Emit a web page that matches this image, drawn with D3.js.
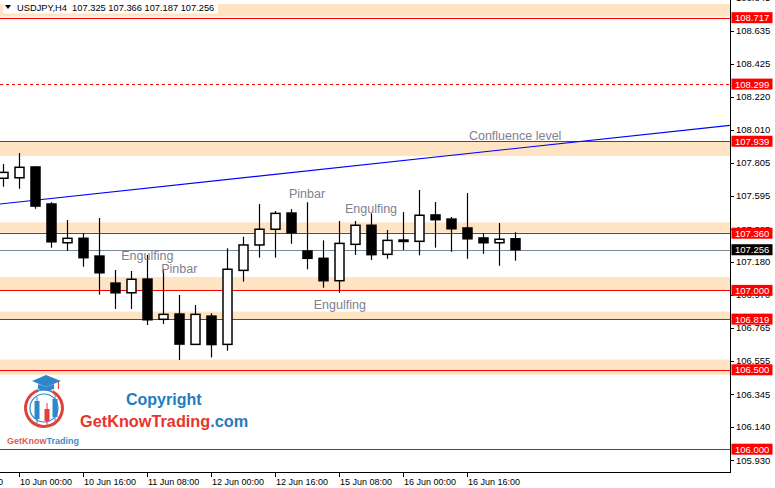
<!DOCTYPE html>
<html><head><meta charset="utf-8">
<script src="https://cdn.jsdelivr.net/npm/d3@7"></script>
<style>
body{margin:0;background:#fff;}
svg{display:block;font-family:"Liberation Sans",Arial,sans-serif;}
</style></head>
<body><svg id="c" width="775" height="488"></svg>
<script>
// ---------- data ----------
const symbol = "USDJPY,H4";
const opens  = [107.706,107.709,107.777,107.544,107.300,107.328,107.216,107.046,106.985,107.071,106.818,106.851,106.660,106.838,106.660,107.126,107.286,107.385,107.487,107.248,107.202,107.061,107.290,107.410,107.227,107.317,107.309,107.475,107.449,107.393,107.330,107.300,107.325];
const highs  = [107.796,107.865,107.783,107.556,107.443,107.359,107.456,107.128,107.122,107.223,107.128,106.971,106.908,106.856,107.265,107.338,107.544,107.500,107.512,107.555,107.315,107.437,107.437,107.485,107.380,107.493,107.632,107.556,107.462,107.613,107.361,107.424,107.366];
const lows   = [107.653,107.640,107.514,107.269,107.250,107.149,106.973,106.883,106.883,106.782,106.788,106.562,106.658,106.578,106.620,107.055,107.206,107.206,107.294,107.133,107.017,106.985,107.223,107.191,107.199,107.254,107.221,107.269,107.243,107.199,107.231,107.155,107.187];
const closes = [107.743,107.775,107.531,107.306,107.328,107.206,107.111,106.985,107.070,106.815,106.849,106.662,106.849,106.659,107.133,107.286,107.385,107.485,107.363,107.202,107.061,107.296,107.410,107.225,107.315,107.308,107.473,107.445,107.388,107.325,107.300,107.322,107.256];

const timeTickIndex  = [-3,1,5,9,13,17,21,25,29];
const timeTickLabels = ["9 Jun 08:00","10 Jun 00:00","10 Jun 16:00","11 Jun 08:00","12 Jun 00:00","12 Jun 16:00","15 Jun 08:00","16 Jun 00:00","16 Jun 16:00"];

const priceTicks = [108.845,108.635,108.425,108.220,108.010,107.805,107.595,107.385,107.180,106.970,106.765,106.555,106.345,106.140,105.930];

const levelPrices = [108.717,108.299,107.939,107.360,107.000,106.819,106.500,106.000];
const levelDashed = [false,true,false,false,false,false,false,false];

const zoneTops    = [108.803,107.939,107.428,107.084,106.866,106.565];
const zoneBottoms = [108.724,107.846,107.363,106.996,106.819,106.469];

const bidPrice = 107.256;
const trendIndex = [-0.22,45.4];
const trendPrice = [107.544,108.039];

const noteTexts  = ["Confluence level","Pinbar","Engulfing","Engulfing","Engulfing","Pinbar"];
const noteIndex  = [29.09,17.84,21.34,19.39,7.36,9.86];
const notePrice  = [107.947,107.580,107.485,106.883,107.191,107.111];

// ---------- layout ----------
const W = 775, H = 488, plotR = 730, plotB = 472;
const svg = d3.select("#c");
const x = d3.scaleLinear().domain([0,32]).range([3.5,515.5]);
const y = d3.scaleLinear().domain([106.000,108.717]).range([449.2,17.7]);

svg.append("defs").append("clipPath").attr("id","plot")
  .append("rect").attr("x",0).attr("y",0).attr("width",plotR).attr("height",plotB);

const plot = svg.append("g").attr("clip-path","url(#plot)");

// zones
plot.selectAll("rect.zone").data(zoneTops).join("rect").attr("class","zone")
  .attr("x",0).attr("width",plotR)
  .attr("y",(d)=>y(d)).attr("height",(d,i)=>y(zoneBottoms[i])-y(d))
  .attr("fill","#FFE4C4");

// level lines
plot.selectAll("line.lvl").data(levelPrices).join("line").attr("class","lvl")
  .attr("x1",0).attr("x2",plotR)
  .attr("y1",d=>Math.round(y(d))+0.5).attr("y2",d=>Math.round(y(d))+0.5)
  .attr("stroke","#FF0000").attr("stroke-width",1)
  .attr("stroke-dasharray",(d,i)=>levelDashed[i]?"3,3":null);

// bid line
plot.append("line").attr("x1",0).attr("x2",plotR)
  .attr("y1",Math.round(y(bidPrice))+0.5).attr("y2",Math.round(y(bidPrice))+0.5)
  .attr("stroke","#778899").attr("stroke-width",1);

// trend line
plot.append("path")
  .attr("d",d3.line().x(d=>x(d[0])).y(d=>y(d[1]))(d3.zip(trendIndex,trendPrice)))
  .attr("stroke","#0000FF").attr("stroke-width",1.1).attr("fill","none");

// candles
const idx = d3.range(opens.length);
const cg = plot.append("g");
cg.selectAll("line.wick").data(idx).join("line").attr("class","wick")
  .attr("x1",i=>x(i)).attr("x2",i=>x(i))
  .attr("y1",i=>y(highs[i])).attr("y2",i=>y(lows[i]))
  .attr("stroke","#000").attr("stroke-width",1.2);
cg.selectAll("rect.body").data(idx).join("rect").attr("class","body")
  .attr("x",i=>x(i)-4.5).attr("width",9)
  .attr("y",i=>y(Math.max(opens[i],closes[i])))
  .attr("height",i=>Math.max(0.8,Math.abs(y(opens[i])-y(closes[i]))))
  .attr("fill",i=>closes[i]>=opens[i]?"#fff":"#000")
  .attr("stroke","#000").attr("stroke-width",1.5);

// annotations
plot.selectAll("text.note").data(noteTexts).join("text").attr("class","note")
  .attr("x",(d,i)=>x(noteIndex[i])).attr("y",(d,i)=>y(notePrice[i]))
  .attr("font-size","12.5px").attr("fill","#80808F").text(d=>d);

// axes lines
svg.append("line").attr("x1",plotR+0.5).attr("x2",plotR+0.5).attr("y1",0).attr("y2",plotB+1)
  .attr("stroke","#000").attr("stroke-width",1);
svg.append("line").attr("x1",0).attr("x2",plotR+1).attr("y1",plotB+0.5).attr("y2",plotB+0.5)
  .attr("stroke","#000").attr("stroke-width",1);

// right axis ticks
const ax = svg.append("g");
ax.selectAll("line").data(priceTicks).join("line")
  .attr("x1",plotR).attr("x2",plotR+4)
  .attr("y1",d=>Math.round(y(d))+0.5).attr("y2",d=>Math.round(y(d))+0.5)
  .attr("stroke","#000");
ax.selectAll("text").data(priceTicks).join("text")
  .attr("x",736).attr("y",d=>y(d)).attr("dy","0.35em")
  .attr("font-size","9.5px").attr("fill","#000").text(d=>d.toFixed(3));

// bottom axis ticks
const bx = svg.append("g");
bx.selectAll("line").data(timeTickIndex).join("line")
  .attr("x1",d=>x(d)).attr("x2",d=>x(d)).attr("y1",plotB).attr("y2",plotB+5)
  .attr("stroke","#000");
bx.selectAll("text").data(timeTickLabels).join("text")
  .attr("x",(d,i)=>x(timeTickIndex[i])+0.5).attr("y",485)
  .attr("font-size","9px").attr("fill","#000").text(d=>d);

// price labels
const pl = svg.append("g");
const labelData = levelPrices.map(p=>({p,c:"#FF0000"})).concat([{p:bidPrice,c:"#000"}]);
pl.selectAll("rect").data(labelData).join("rect")
  .attr("x",731.5).attr("width",41).attr("y",d=>y(d.p)-5.5).attr("height",11)
  .attr("fill",d=>d.c);
pl.selectAll("text").data(labelData).join("text")
  .attr("x",735).attr("y",d=>y(d.p)).attr("dy","0.36em")
  .attr("font-size","9.5px").attr("fill","#fff").text(d=>d.p.toFixed(3));

// header
const hd = svg.append("g");
hd.append("rect").attr("x",3).attr("y",0).attr("width",215).attr("height",13.5).attr("fill","#fff");
hd.append("path").attr("d","M5,5 L11,5 L8,9 Z").attr("fill","#000");
hd.append("text").attr("x",17).attr("y",10.5).attr("font-size","9.3px").attr("fill","#000")
  .attr("xml:space","preserve")
  .text(symbol+"  "+[opens[32],highs[32],lows[32],closes[32]].map(v=>v.toFixed(3)).join(" "));

// logo
const lg = svg.append("g");
const arc = d3.arc();
lg.append("path").attr("transform","translate(44,408)")
  .attr("d",arc({innerRadius:17,outerRadius:20,startAngle:Math.PI*0.15,endAngle:Math.PI*1.9}))
  .attr("fill","#E0413A");
lg.append("path").attr("transform","translate(44,408)")
  .attr("d",arc({innerRadius:17.5,outerRadius:19,startAngle:-Math.PI*0.1,endAngle:Math.PI*0.15}))
  .attr("fill","#2F86C8");
lg.append("circle").attr("cx",44).attr("cy",408).attr("r",14).attr("fill","none")
  .attr("stroke","#2F86C8").attr("stroke-width",1.2);
[[37,397,423,401,419,"#2F86C8"],[47,403,426,409,421,"#E0413A"],[55,394,421,399,417,"#2F86C8"]].forEach(c=>{
  lg.append("line").attr("x1",c[0]).attr("x2",c[0]).attr("y1",c[1]).attr("y2",c[2]).attr("stroke",c[5]).attr("stroke-width",1);
  lg.append("rect").attr("x",c[0]-2.5).attr("y",c[3]).attr("width",5).attr("height",c[4]-c[3]).attr("fill",c[5]);
});
lg.append("path").attr("d","M32,381 L46,375 L61,381 L46,387 Z").attr("fill","#2F86C8");
lg.append("path").attr("d","M38,384 L38,389 Q46,392 54,389 L54,384 L46,387 Z").attr("fill","#2F86C8");
lg.append("line").attr("x1",58.5).attr("x2",58.5).attr("y1",381).attr("y2",389).attr("stroke","#E0413A").attr("stroke-width",1.2);
const lt = lg.append("text").attr("x",7).attr("y",444).attr("font-size","9px").attr("font-weight","bold");
lt.append("tspan").attr("fill","#E05A55").text("GetKnow");
lt.append("tspan").attr("fill","#3C8CC8").text("Trading");

svg.append("text").attr("x",126).attr("y",405).attr("font-size","16px").attr("font-weight","bold")
  .attr("fill","#1F7DC0").text("Copyright");
const t2 = svg.append("text").attr("x",80).attr("y",427).attr("font-size","16.3px").attr("font-weight","bold");
t2.append("tspan").attr("fill","#E8342E").text("GetKnowTrading");
t2.append("tspan").attr("fill","#1F7DC0").text(".com");
</script>
</body></html>
